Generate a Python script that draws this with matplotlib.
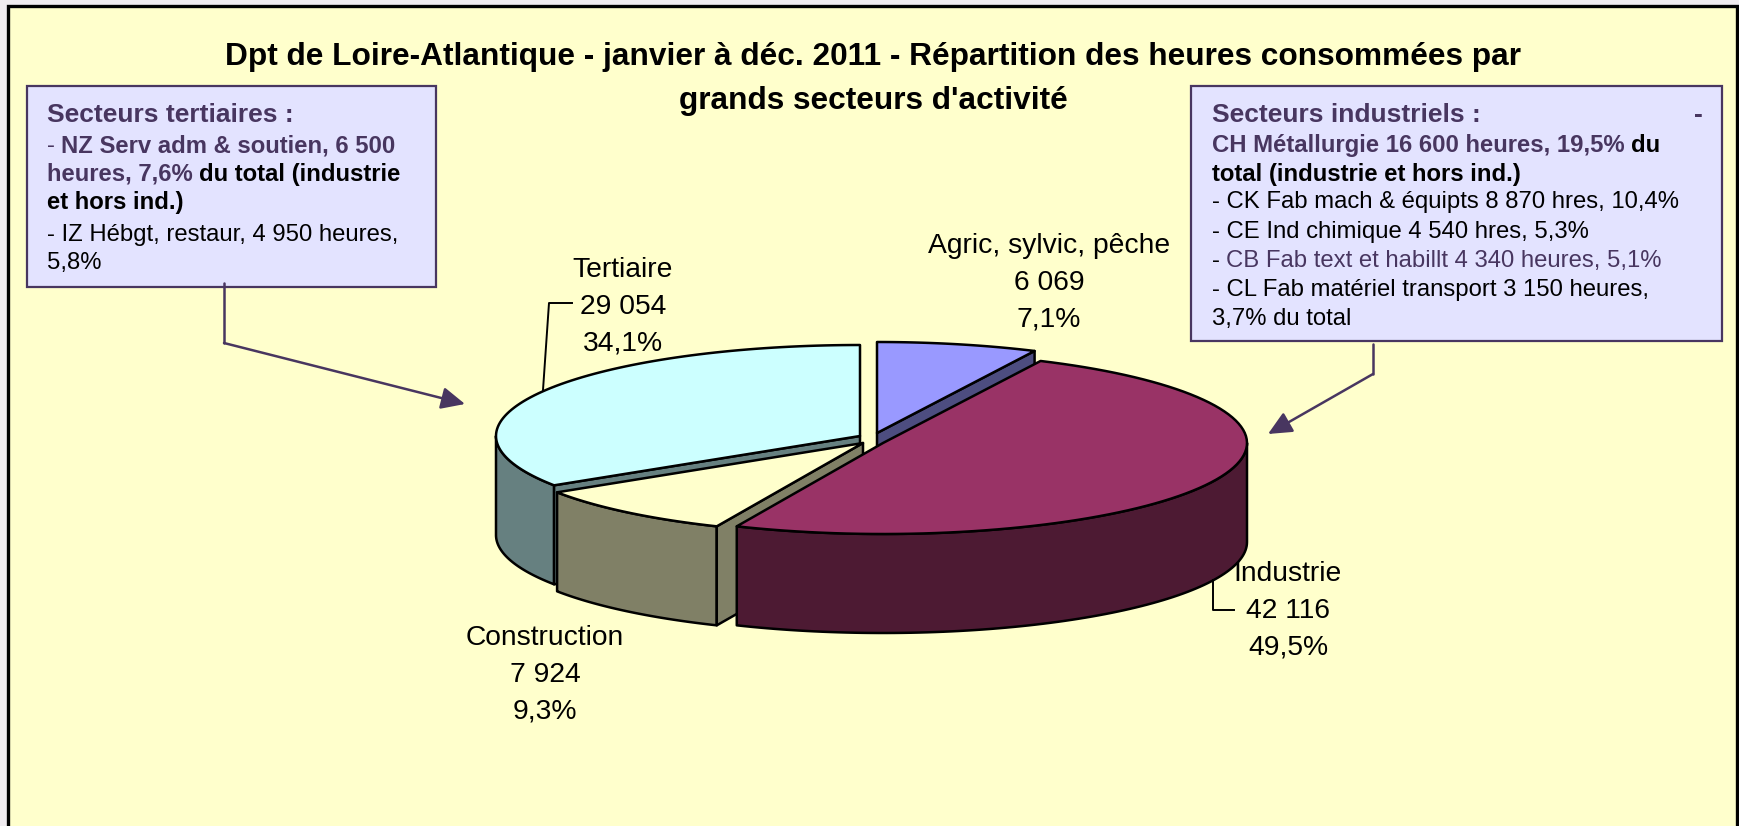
"""Dpt de Loire-Atlantique: exploded 3D-looking pie of hours by sector."""
import numpy as np
import matplotlib
matplotlib.use("Agg")
import matplotlib.pyplot as plt
from matplotlib.patches import Polygon, Rectangle

plt.rcParams["font.family"] = ["Liberation Sans", "DejaVu Sans"]

# pie order, clockwise from 12 o'clock
sectors = ["Agric, sylvic, pêche", "Industrie", "Construction", "Tertiaire"]
hours = [6069, 42116, 7924, 29054]
top_colors = ["#9999FF", "#993366", "#FFFFCC", "#CCFFFF"]
side_colors = ["#4D4D80", "#4D1A33", "#808066", "#668080"]

title_lines = ["Dpt de Loire-Atlantique - janvier à déc. 2011 - Répartition des heures consommées par",
               "grands secteurs d'activité"]

PURPLE = "#483660"
BODY, HEAD = 17.2, 19
left_box = [
    [("Secteurs tertiaires :", PURPLE, "bold", HEAD)],
    [("- ", PURPLE, "normal", BODY), ("NZ Serv adm & soutien, 6 500", PURPLE, "bold", BODY)],
    [("heures, 7,6% ", PURPLE, "bold", BODY), ("du total (industrie", "black", "bold", BODY)],
    [("et hors ind.)", "black", "bold", BODY)],
    [("- IZ Hébgt, restaur, 4 950 heures,", "black", "normal", BODY)],
    [("5,8%", "black", "normal", BODY)],
]
right_box = [
    [("Secteurs industriels :", PURPLE, "bold", HEAD)],
    [("CH Métallurgie 16 600 heures, 19,5% ", PURPLE, "bold", BODY), ("du", "black", "bold", BODY)],
    [("total (industrie et hors ind.)", "black", "bold", BODY)],
    [("- CK Fab mach & équipts 8 870 hres, 10,4%", "black", "normal", BODY)],
    [("- CE Ind chimique 4 540 hres, 5,3%", "black", "normal", BODY)],
    [("- ", "black", "normal", BODY), ("CB Fab text et habillt 4 340 heures, 5,1%", PURPLE, "normal", BODY)],
    [("- CL Fab matériel transport 3 150 heures,", "black", "normal", BODY)],
    [("3,7% du total", "black", "normal", BODY)],
]

# layout, in reference pixels
RX, RY, DEPTH = 364, 91, 99
apex = [(877, 433), (883, 443), (863, 443), (860, 436)]
label_pos = [(1049, 253), (1288, 581), (545, 645), (623, 277)]
LABEL_PITCH = 37

fig = plt.figure(figsize=(17.4, 8.26), dpi=100, facecolor="#F0ECF0")
ax = fig.add_axes([0, 0, 1, 1])
ax.set_xlim(0, 1740)
ax.set_ylim(826, 0)
ax.axis("off")
renderer = fig.canvas.get_renderer()

ax.add_patch(Rectangle((8, 6), 1729, 830, fc="#FFFFCC", ec="black", lw=2.4))


def arc(center, a0, a1):
    t = np.radians(np.linspace(a0, a1, 90))
    return np.column_stack([center[0] + RX * np.sin(t), center[1] - RY * np.cos(t)])


def poly(pts, color):
    ax.add_patch(Polygon(pts, closed=True, fc=color, ec="black", lw=1.8, joinstyle="round"))


def wall(edge, color):
    # extrude a top edge straight down
    poly(np.vstack([edge, edge[::-1] + [0, DEPTH]]), color)


shares = np.array(hours) / sum(hours)
bounds = np.concatenate([[0], np.cumsum(shares) * 360])


def radial(i, a):
    return np.array([apex[i], arc(apex[i], a, a)[0]], dtype=float)


# back to front so the nearer slices cover the hidden walls
for i in [0, 3, 2, 1]:
    a0, a1 = bounds[i], bounds[i + 1]
    c = apex[i]
    if i == 0:
        wall(radial(i, a1), side_colors[i])
    if i == 3:
        wall(arc(c, a0, 270), side_colors[i])
        wall(radial(i, a0), side_colors[i])
    if i == 2:
        wall(arc(c, a0, a1), side_colors[i])
        wall(radial(i, a0), side_colors[i])
    if i == 1:
        wall(arc(c, 90, a1), side_colors[i])
    poly(np.vstack([[c], arc(c, a0, a1)]), top_colors[i])

# value labels
for name, h, s, (x, y) in zip(sectors, hours, shares, label_pos):
    rows = [name, f"{h:,}".replace(",", " "), f"{s * 100:.1f}%".replace(".", ",")]
    for k, row in enumerate(rows):
        ax.text(x, y + k * LABEL_PITCH, row, ha="center", va="baseline", fontsize=20.3, color="black")

# leader lines
ax.plot([572, 549, 543], [303, 303, 390], color="black", lw=1.4)
ax.plot([1213, 1213, 1234], [580, 610, 610], color="black", lw=1.4)

ax.text(873, 65, title_lines[0], ha="center", va="baseline", fontsize=22.8, fontweight="bold")
ax.text(873, 109, title_lines[1], ha="center", va="baseline", fontsize=22.8, fontweight="bold")


def text_width(s, size, weight):
    # the dot keeps trailing spaces in the measure
    t = ax.text(0, 0, s + ".", fontsize=size, fontweight=weight)
    d = ax.text(0, 0, ".", fontsize=size, fontweight=weight)
    w = t.get_window_extent(renderer).width - d.get_window_extent(renderer).width
    t.remove()
    d.remove()
    return w


def write_box(lines, x, baselines):
    for runs, y in zip(lines, baselines):
        cx = x
        for s, color, weight, size in runs:
            ax.text(cx, y, s, fontsize=size, fontweight=weight, color=color, va="baseline")
            cx += text_width(s, size, weight)


ax.add_patch(Rectangle((27, 86), 409, 201, fc="#E3E3FF", ec=PURPLE, lw=1.6))
write_box(left_box, 47, [122, 152, 181, 209, 241, 269])
ax.add_patch(Rectangle((1191, 86), 531, 255, fc="#E3E3FF", ec=PURPLE, lw=1.6))
write_box(right_box, 1212, [122, 152, 181, 208, 238, 267, 296, 325])
ax.text(1694, 122, "-", fontsize=HEAD, fontweight="bold", color=PURPLE, va="baseline")

# callout arrows
for xs, ys in [([224, 224, 465], [283, 343, 404]), ([1373, 1373, 1268], [344, 374, 434])]:
    ax.plot(xs[:2], ys[:2], color=PURPLE, lw=1.8, solid_capstyle="round")
    ax.annotate("", xy=(xs[2], ys[2]), xytext=(xs[1], ys[1]),
                arrowprops=dict(arrowstyle="-|>,head_length=0.9,head_width=0.42", color=PURPLE,
                                lw=1.8, shrinkA=0, shrinkB=0, mutation_scale=16))

fig.savefig("out.png", dpi=100, facecolor=fig.get_facecolor())
